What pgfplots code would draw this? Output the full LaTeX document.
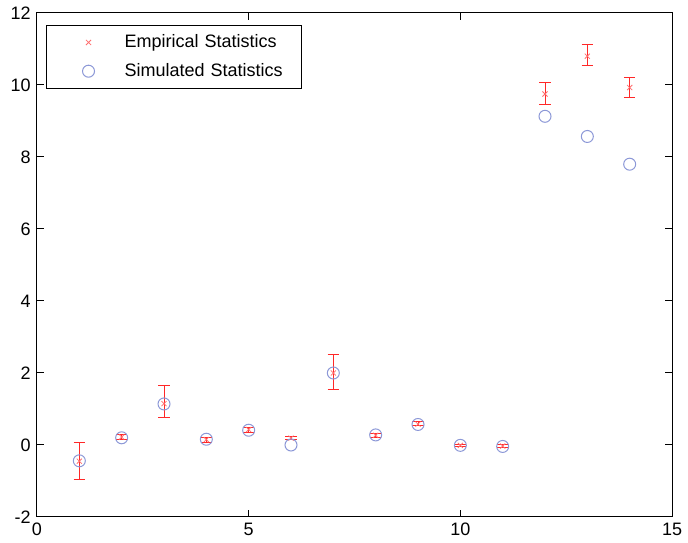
\documentclass[border=0pt]{standalone}
\usepackage{pgfplots}
\pgfplotsset{compat=1.18}
\usepackage{fontspec}
\setmainfont{Liberation Sans}
\definecolor{simblue}{RGB}{140,152,215}
\definecolor{empred}{RGB}{255,40,40}
\definecolor{empmark}{RGB}{255,110,110}

% empirical means
\pgfplotstableread{
x y
1 -0.45
2 0.22
3 1.15
4 0.15
5 0.43
6 0.19
7 2.00
8 0.27
9 0.58
10 -0.01
11 -0.03
12 9.75
13 10.80
14 9.93
}\emp

% error bar ends (bottom, top) as segments
\pgfplotstableread[row sep=\\]{
x y\\
1 -0.97\\ 1 0.08\\ nan nan\\
2 0.14\\ 2 0.29\\ nan nan\\
3 0.77\\ 3 1.66\\ nan nan\\
4 0.08\\ 4 0.22\\ nan nan\\
5 0.36\\ 5 0.49\\ nan nan\\
6 0.14\\ 6 0.24\\ nan nan\\
7 1.55\\ 7 2.50\\ nan nan\\
8 0.21\\ 8 0.33\\ nan nan\\
9 0.53\\ 9 0.64\\ nan nan\\
10 -0.04\\ 10 0.02\\ nan nan\\
11 -0.06\\ 11 0.00\\ nan nan\\
12 9.47\\ 12 10.07\\ nan nan\\
13 10.53\\ 13 11.13\\ nan nan\\
14 9.64\\ 14 10.21\\
}\stems

% caps
\pgfplotstableread[row sep=\\]{
x y\\
0.865 -0.97\\ 1.135 -0.97\\ nan nan\\ 0.865 0.08\\ 1.135 0.08\\ nan nan\\
1.865 0.14\\ 2.135 0.14\\ nan nan\\ 1.865 0.29\\ 2.135 0.29\\ nan nan\\
2.865 0.77\\ 3.135 0.77\\ nan nan\\ 2.865 1.66\\ 3.135 1.66\\ nan nan\\
3.865 0.08\\ 4.135 0.08\\ nan nan\\ 3.865 0.22\\ 4.135 0.22\\ nan nan\\
4.865 0.36\\ 5.135 0.36\\ nan nan\\ 4.865 0.49\\ 5.135 0.49\\ nan nan\\
5.865 0.14\\ 6.135 0.14\\ nan nan\\ 5.865 0.24\\ 6.135 0.24\\ nan nan\\
6.865 1.55\\ 7.135 1.55\\ nan nan\\ 6.865 2.50\\ 7.135 2.50\\ nan nan\\
7.865 0.21\\ 8.135 0.21\\ nan nan\\ 7.865 0.33\\ 8.135 0.33\\ nan nan\\
8.865 0.53\\ 9.135 0.53\\ nan nan\\ 8.865 0.64\\ 9.135 0.64\\ nan nan\\
9.865 -0.04\\ 10.135 -0.04\\ nan nan\\ 9.865 0.02\\ 10.135 0.02\\ nan nan\\
10.865 -0.06\\ 11.135 -0.06\\ nan nan\\ 10.865 0.00\\ 11.135 0.00\\ nan nan\\
11.865 9.47\\ 12.135 9.47\\ nan nan\\ 11.865 10.07\\ 12.135 10.07\\ nan nan\\
12.865 10.53\\ 13.135 10.53\\ nan nan\\ 12.865 11.13\\ 13.135 11.13\\ nan nan\\
13.865 9.64\\ 14.135 9.64\\ nan nan\\ 13.865 10.21\\ 14.135 10.21\\
}\caps

\pgfplotstableread{
x y
1 -0.44
2 0.20
3 1.14
4 0.16
5 0.41
6 0.00
7 2.00
8 0.28
9 0.57
10 -0.01
11 -0.04
12 9.13
13 8.57
14 7.80
}\sim

\begin{document}
\fontsize{9}{11}\selectfont
\begin{tikzpicture}
\begin{axis}[
    scale only axis,
    width=317.5pt, height=252pt,
    xmin=0, xmax=15, ymin=-2, ymax=12,
    xtick={0,5,10,15},
    ytick={-2,0,2,4,6,8,10,12},
    tick align=inside,
    major tick length=3.3pt,
    axis line style={line width=0.5pt},
    every tick/.style={black, line width=0.5pt},
    unbounded coords=jump,
    /pgf/number format/assume math mode=true,
    tick label style={font=\fontsize{9}{11}\selectfont},
    legend style={
        at={(axis description cs:0.0142,0.976)}, anchor=north west,
        draw=black, line width=0.5pt,
        font=\fontsize{9}{11}\selectfont,
        inner xsep=4pt, inner ysep=2.5pt,
        row sep=2.5pt,
        cells={anchor=west},
        text width=82.5pt,
    },
    legend image code/.code={
        \path[draw=none] (0pt,0pt) -- (33pt,0pt);
        \path[#1, draw=none] plot coordinates {(17pt,0pt)};
    },
]
\addplot[empred, line width=0.5pt, no marks, forget plot] table[x=x, y=y] {\stems};
\addplot[empred, line width=0.5pt, no marks, forget plot] table[x=x, y=y] {\caps};

\addplot[only marks, mark=x, mark size=1.8pt,
    mark options={draw=empmark, line width=0.4pt}]
    table[x=x, y=y] {\emp};
\addlegendentry{Empirical Statistics}

\addplot[only marks, mark=o, mark size=3pt,
    mark options={draw=simblue, line width=0.5pt}]
    table[x=x, y=y] {\sim};
\addlegendentry{Simulated Statistics}
\end{axis}
\pgfresetboundingbox
\path (current axis.south west) ++(-18.5pt,-13pt) rectangle ([xshift=8pt,yshift=6.5pt]current axis.north east);
\end{tikzpicture}
\end{document}
